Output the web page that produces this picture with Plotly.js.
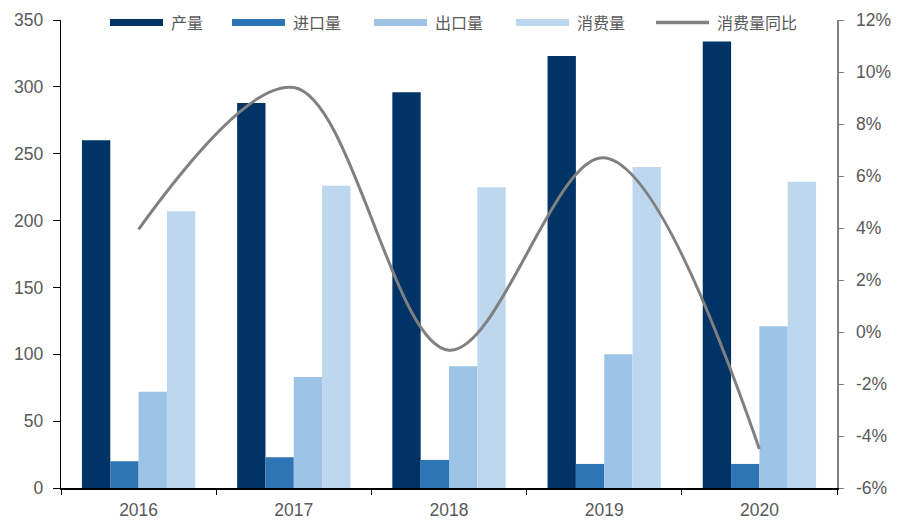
<!DOCTYPE html>
<html>
<head>
<meta charset="utf-8">
<script src="https://cdn.plot.ly/plotly-3.0.1.min.js"></script>
<style>html,body{margin:0;padding:0;background:#fff;}#chart{width:906px;height:521px;}</style>
</head>
<body>
<div id="chart"></div>
<script>
var years = ['2016', '2017', '2018', '2019', '2020'];
var production = [260, 288, 296, 323, 334];
var imports = [20, 23, 21, 18, 18];
var exports_ = [72, 83, 91, 100, 121];
var consumption = [207, 226, 225, 240, 229];
var consumptionYoY = [3.95, 9.4, -0.7, 6.7, -4.5];
var pctTickVals = [-6, -4, -2, 0, 2, 4, 6, 8, 10, 12];
var pctTickText = ['-6%', '-4%', '-2%', '0%', '2%', '4%', '6%', '8%', '10%', '12%'];

var seriesNames = ['产量', '进口量', '出口量', '消费量', '消费量同比'];
var barColors = ['#003366', '#2E75B6', '#9DC3E6', '#BDD7EE'];
var lineColor = '#808080';

var barSeries = [production, imports, exports_, consumption];
var traces = barSeries.map(function (vals, i) {
  return {
    type: 'bar', x: years, y: vals, name: seriesNames[i],
    marker: {color: barColors[i]}, showlegend: false, hoverinfo: 'x+y'
  };
});
traces.push({
  type: 'scatter', mode: 'lines', x: years, y: consumptionYoY, yaxis: 'y2',
  name: seriesNames[4], line: {color: lineColor, width: 3, shape: 'spline', smoothing: 1},
  showlegend: false
});

// custom legend (wide thin swatches like the reference)
var L = 61, R = 837, T = 20, B = 488;
function px(x) { return (x - L) / (R - L); }
function py(y) { return (B - y) / (B - T); }
var legendX = [110, 232, 374, 516, 656];
var swW = 53;
var shapes = [], annotations = [];
for (var i = 0; i < 5; i++) {
  if (i < 4) {
    shapes.push({type: 'rect', xref: 'paper', yref: 'paper',
      x0: px(legendX[i]), x1: px(legendX[i] + swW), y0: py(26), y1: py(19),
      fillcolor: barColors[i], line: {width: 0}});
  } else {
    shapes.push({type: 'line', xref: 'paper', yref: 'paper',
      x0: px(legendX[i]), x1: px(legendX[i] + swW), y0: py(22.5), y1: py(22.5),
      line: {color: lineColor, width: 3.5}});
  }
  annotations.push({xref: 'paper', yref: 'paper', x: px(legendX[i] + swW + 6), y: py(22.5),
    xanchor: 'left', yanchor: 'middle', showarrow: false, text: seriesNames[i],
    font: {family: 'Noto Sans CJK SC', size: 16, color: '#595959'}});
}

var tickFont = {family: 'Liberation Sans, Arial, sans-serif', size: 17.5, color: '#595959'};
var layout = {
  width: 906, height: 521,
  margin: {l: 61, r: 69, t: 20, b: 33},
  paper_bgcolor: '#fff', plot_bgcolor: '#fff',
  barmode: 'group', bargap: 0.27, bargroupgap: 0,
  showlegend: false,
  xaxis: {type: 'category', tickson: 'boundaries', ticks: 'outside', ticklen: 5,
    tickcolor: '#000', showline: true, linecolor: '#000', linewidth: 2,
    ticklabelstandoff: 5,
    tickfont: tickFont, showgrid: false, zeroline: false},
  yaxis: {range: [0, 350], dtick: 50, tick0: 0, ticks: 'outside', ticklen: 7,
    tickcolor: '#000', showline: true, linecolor: '#000', linewidth: 1.2,
    ticklabelstandoff: 6,
    tickfont: tickFont, showgrid: false, zeroline: false},
  yaxis2: {overlaying: 'y', side: 'right', range: [-6, 12],
    tickmode: 'array', tickvals: pctTickVals, ticktext: pctTickText,
    ticks: 'outside', ticklen: 5, tickcolor: '#808080',
    showline: true, linecolor: '#808080', linewidth: 1.5,
    ticklabelstandoff: 9,
    tickfont: tickFont, showgrid: false, zeroline: false},
  shapes: shapes, annotations: annotations
};
Plotly.newPlot('chart', traces, layout, {displayModeBar: false, staticPlot: true});
</script>
</body>
</html>
